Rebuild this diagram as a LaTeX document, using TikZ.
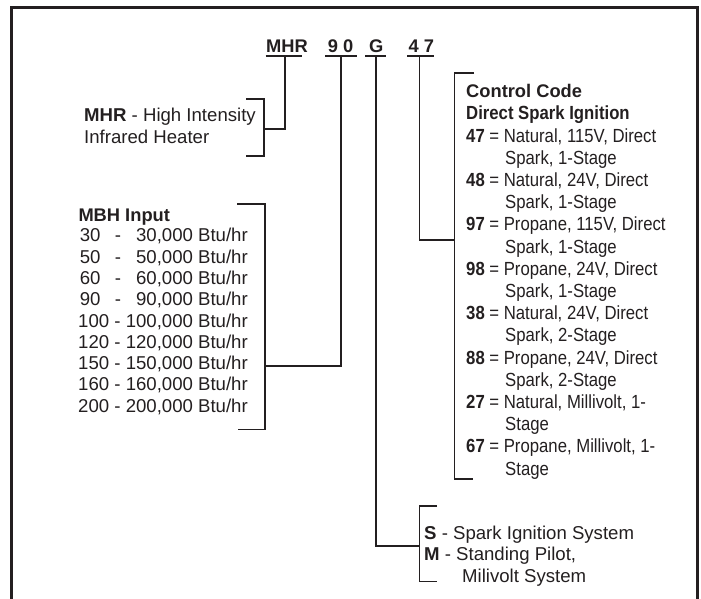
\documentclass[tikz,border=0pt]{standalone}
\usepackage{fontspec}
\setmainfont{Liberation Sans}
\newfontfamily\nfont{Liberation Sans}[FakeStretch=0.88]
\definecolor{ink}{HTML}{231F20}
\tikzset{
  frameline/.style={line width=2.5pt, draw=ink},
  conn/.style={line width=1.3pt, draw=ink},
  uline/.style={line width=1.6pt, draw=ink},
  wtxt/.style={inner sep=0pt, anchor=base west, text=ink, font=\fontsize{18.6}{22}\selectfont},
  wtxtr/.style={inner sep=0pt, anchor=base east, text=ink, font=\fontsize{18.6}{22}\selectfont},
  codetxt/.style={inner sep=0pt, anchor=base west, text=ink, font=\bfseries\fontsize{18.3}{22}\selectfont},
  ntxt/.style={inner sep=0pt, anchor=base west, text=ink, font=\nfont\fontsize{19}{22}\selectfont},
}
\newcommand{\mbhrow}[2]{\hbox to 168pt{\makebox[35pt][l]{#1}-\hfill #2 Btu/hr}}
\begin{document}
\begin{tikzpicture}[x=1pt,y=-1pt]
\useasboundingbox (0,0) rectangle (701,598);
% frame (open at the bottom)
\draw[frameline] (11.5,610) -- (11.5,7.5) -- (697.5,7.5) -- (697.5,610);

% code letters
\node[codetxt] (cMHR) at (266,52) {MHR};
\node[codetxt] (c90) at (327.7,52) {9 0};
\node[codetxt] (cG) at (369,52) {G};
\node[codetxt] (c47) at (408.5,52) {4 7};
\draw[uline] (265.7,56) -- (302,56);
\draw[uline] (325,56) -- (357,56);
\draw[uline] (365.3,56) -- (385.5,56);
\draw[uline] (407,56) -- (434,56);

% connector coordinates
\coordinate (uMHR) at (285,56);
\coordinate (u90) at (341,56);
\coordinate (uG) at (376,56);
\coordinate (u47) at (419.5,56);
\coordinate (bMHR) at (264,129);
\coordinate (b90) at (265,366);
\coordinate (bG) at (419.3,546);
\coordinate (b47) at (454.5,240);

\draw[conn] (uMHR) |- (bMHR);
\draw[conn] (u90) |- (b90);
\draw[conn] (uG) |- (bG);
\draw[conn] (u47) |- (b47);

% brackets
\draw[conn] (246,99) -| (264,156) -- (246,156);
\draw[conn] (237,204) -| (265,429.5) -- (238,429.5);
\draw[conn] (474,73) -| (454.5,479) -- (473,479);
\draw[conn] (437,506) -| (419.3,581.5) -- (437,581.5);

% MHR block
\node[wtxt] (t1) at (84,121) {\textbf{MHR} - High Intensity};
\node[wtxt] (t2) at (84,143) {Infrared Heater};

% MBH block
\node[codetxt] (m0) at (78.3,221) {MBH Input};
\node[wtxtr] (m1) at (248,241.8) {\mbhrow{30}{30,000}};
\node[wtxtr] (m2) at (248,263.1) {\mbhrow{50}{50,000}};
\node[wtxtr] (m3) at (248,284.4) {\mbhrow{60}{60,000}};
\node[wtxtr] (m4) at (248,305.7) {\mbhrow{90}{90,000}};
\node[wtxtr] (m5) at (248,327.0) {100 - 100,000 Btu/hr};
\node[wtxtr] (m6) at (248,348.3) {120 - 120,000 Btu/hr};
\node[wtxtr] (m7) at (248,369.6) {150 - 150,000 Btu/hr};
\node[wtxtr] (m8) at (248,390.9) {160 - 160,000 Btu/hr};
\node[wtxtr] (m9) at (248,412.2) {200 - 200,000 Btu/hr};

% control code block
\node[codetxt] (k0) at (466,97) {Control Code};
\node[ntxt,font=\nfont\bfseries\fontsize{19}{22}\selectfont] (k1) at (466,119) {Direct Spark Ignition};
\node[ntxt] (a1) at (466,142) {\textbf{47} = Natural, 115V, Direct};
\node[ntxt] (a2) at (505,164.2) {Spark, 1-Stage};
\node[ntxt] (b1) at (466,186.4) {\textbf{48} = Natural, 24V, Direct};
\node[ntxt] (b2) at (505,208.6) {Spark, 1-Stage};
\node[ntxt] (c1) at (466,230.8) {\textbf{97} = Propane, 115V, Direct};
\node[ntxt] (c2) at (505,253) {Spark, 1-Stage};
\node[ntxt] (d1) at (466,275.2) {\textbf{98} = Propane, 24V, Direct};
\node[ntxt] (d2) at (505,297.4) {Spark, 1-Stage};
\node[ntxt] (e1) at (466,319.6) {\textbf{38} = Natural, 24V, Direct};
\node[ntxt] (e2) at (505,341.8) {Spark, 2-Stage};
\node[ntxt] (f1) at (466,364) {\textbf{88} = Propane, 24V, Direct};
\node[ntxt] (f2) at (505,386.2) {Spark, 2-Stage};
\node[ntxt] (g1) at (466,408.4) {\textbf{27} = Natural, Millivolt, 1-};
\node[ntxt] (g2) at (505,430.6) {Stage};
\node[ntxt] (h1) at (466,452.8) {\textbf{67} = Propane, Millivolt, 1-};
\node[ntxt] (h2) at (505,475) {Stage};

% ignition block
\node[wtxt] (s1) at (424,539) {\textbf{S} - Spark Ignition System};
\node[wtxt] (s2) at (424,560.5) {\textbf{M} - Standing Pilot,};
\node[wtxt] (s3) at (462,582) {Milivolt System};
\end{tikzpicture}
\end{document}
